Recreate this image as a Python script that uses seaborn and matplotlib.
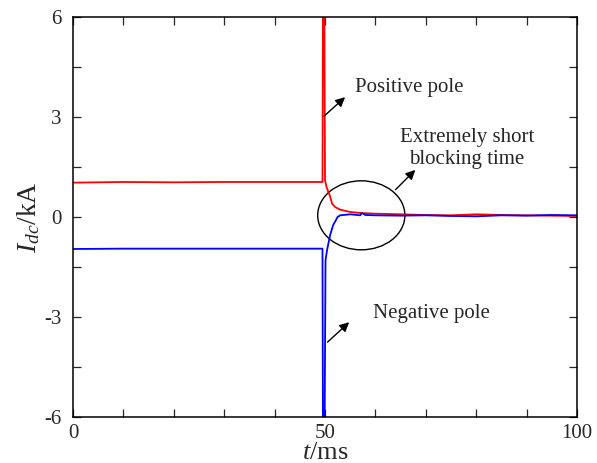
import numpy as np
import pandas as pd
import matplotlib
matplotlib.use("Agg")
import matplotlib.pyplot as plt
from matplotlib.patches import Ellipse
from matplotlib.ticker import MultipleLocator
import seaborn as sns

# Positive pole current (kA) vs time (ms)
pos_t = [0, 10, 20, 30, 40, 49.5, 49.6, 49.85, 50.0, 50.3, 50.6, 51.0, 51.4, 52.0,
         53.0, 55.0, 57.0, 60.0, 65.0, 70.0, 75.0, 80.0, 85.0, 90.0, 95.0, 100.0]
pos_i = [1.03, 1.05, 1.04, 1.05, 1.05, 1.05, 7.0, 7.0, 1.1, 0.9, 0.78, 0.62, 0.4, 0.3,
         0.22, 0.15, 0.12, 0.1, 0.08, 0.06, 0.05, 0.08, 0.06, 0.05, 0.04, 0.03]

# Negative pole current (kA) vs time (ms)
neg_t = [0, 10, 20, 30, 40, 49.5, 49.6, 49.9, 50.1, 50.4, 51.0, 51.6, 52.5, 53.0,
         55.0, 57.0, 57.3, 58.0, 60.0, 65.0, 70.0, 75.0, 80.0, 85.0, 90.0, 95.0, 100.0]
neg_i = [-0.96, -0.95, -0.95, -0.95, -0.95, -0.95, -7.0, -7.0, -1.3, -1.0, -0.55, -0.25,
         0.0, 0.05, 0.08, 0.05, 0.12, 0.06, 0.05, 0.04, 0.05, 0.03, 0.02, 0.05, 0.04, 0.06, 0.05]

x_ticks = [0, 50, 100]
y_ticks = [-6, -3, 0, 3, 6]

sns.set_style("ticks")
plt.rcParams['font.family'] = ['Liberation Serif', 'DejaVu Serif']
plt.rcParams['mathtext.fontset'] = 'custom'
plt.rcParams['mathtext.rm'] = 'Liberation Serif'
plt.rcParams['mathtext.it'] = 'Liberation Serif:italic'
plt.rcParams['axes.unicode_minus'] = False

fig = plt.figure(figsize=(5.97, 4.63), dpi=100)
ax = fig.add_axes([0.1223, 0.0994, 0.8442, 0.8639])

df_pos = pd.DataFrame({"t": pos_t, "i": pos_i})
df_neg = pd.DataFrame({"t": neg_t, "i": neg_i})
sns.lineplot(data=df_pos, x="t", y="i", ax=ax, color="#ff0000", lw=1.3,
             estimator=None, sort=False)
sns.lineplot(data=df_neg, x="t", y="i", ax=ax, color="#0000ff", lw=1.3,
             estimator=None, sort=False)

ax.set_xlim(0, 100)
ax.set_ylim(-6, 6)
ax.set_xticks(x_ticks)
ax.set_yticks(y_ticks)
ax.xaxis.set_minor_locator(MultipleLocator(10))
ax.yaxis.set_minor_locator(MultipleLocator(1.5))
ax.tick_params(which='both', direction='in', top=True, right=True, width=0.9,
               labelsize=15)
ax.tick_params(axis='x', pad=5)
ax.tick_params(axis='y', pad=8)
ax.tick_params(which='major', length=6)
ax.tick_params(which='minor', length=6)
for s in ax.spines.values():
    s.set_linewidth(1.1)
    s.set_color('black')

ax.set_xlabel(r'$t$/ms', fontsize=19, labelpad=-0.5)
ax.set_ylabel(r'$I_{dc}$/kA', fontsize=20, labelpad=2)

arrow = dict(arrowstyle='-|>', color='black', lw=1.0, mutation_scale=14)
ax.annotate('', xy=(54.4, 3.65), xytext=(49.4, 2.97), arrowprops=arrow)
ax.text(56.0, 3.87, 'Positive pole', fontsize=15, va='center', ha='left')

ax.add_patch(Ellipse((57.2, 0.05), 17.3, 2.07, fill=False, ec='black', lw=1.0))
ax.annotate('', xy=(68.3, 1.47), xytext=(63.6, 0.76), arrowprops=arrow)
ax.text(78.2, 2.05, 'Extremely short\nblocking time', fontsize=15, va='center',
        ha='center', linespacing=1.2)

ax.annotate('', xy=(55.2, -3.1), xytext=(50.1, -3.81), arrowprops=arrow)
ax.text(59.5, -2.9, 'Negative pole', fontsize=15, va='center', ha='left')

fig.savefig('out.png', dpi=100)
